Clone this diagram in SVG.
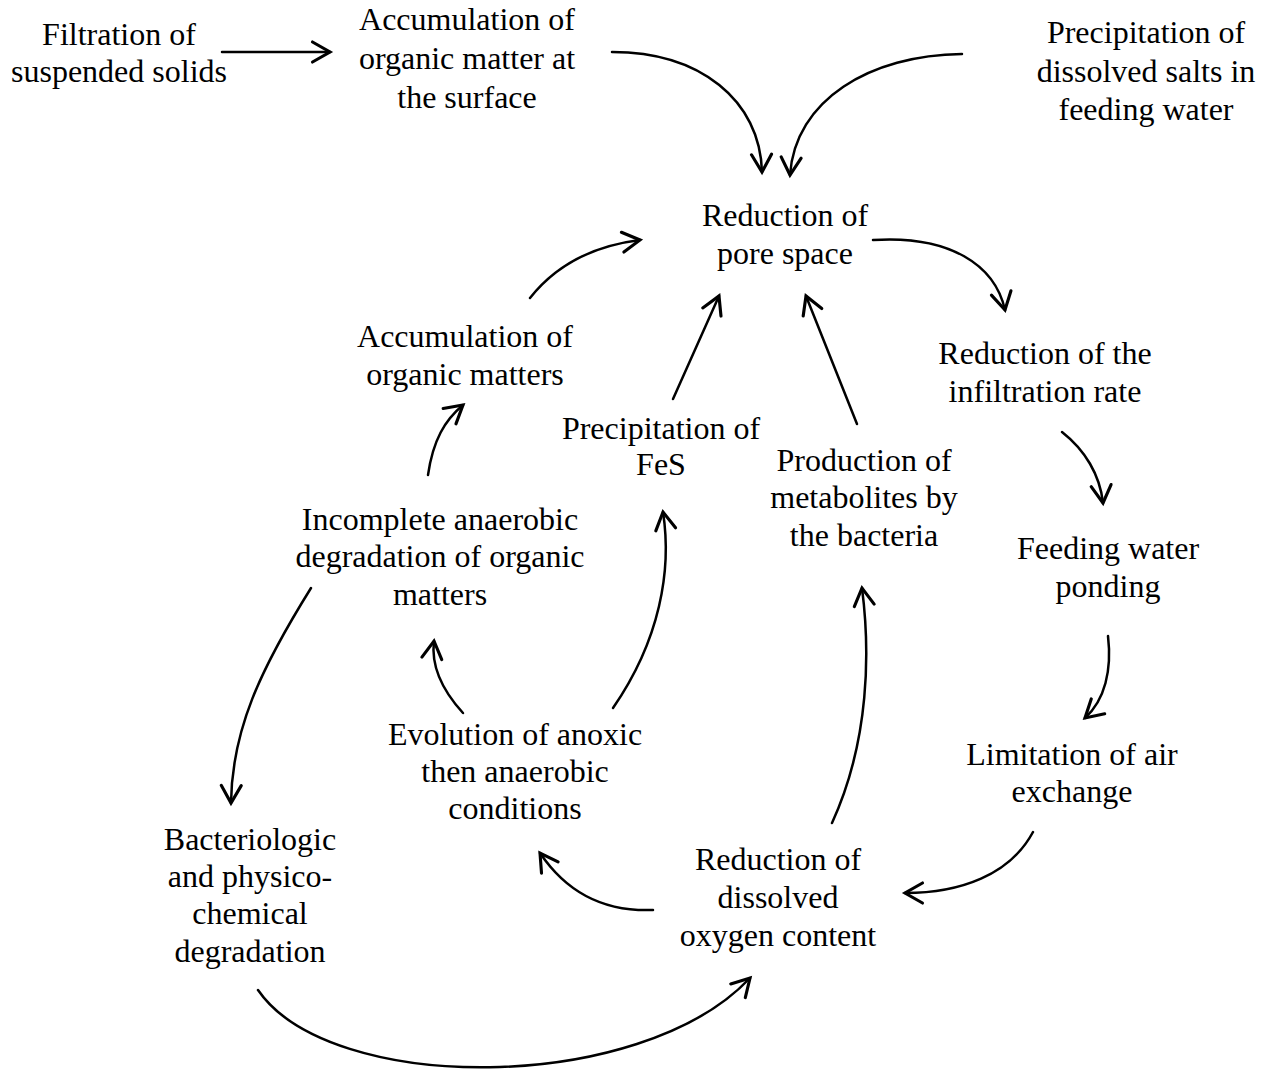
<svg xmlns="http://www.w3.org/2000/svg" width="1268" height="1073" viewBox="0 0 1268 1073">
<defs>
<style>
text{font-family:"Liberation Serif","Times New Roman",serif;font-size:32px;fill:#000;text-anchor:middle}
.c{fill:none;stroke:#000;stroke-width:2.5;stroke-linecap:round}
</style>
<marker id="ah" markerUnits="userSpaceOnUse" markerWidth="30" markerHeight="30" refX="0" refY="0" viewBox="-16 -12 20 24" orient="auto">
<path d="M-14,-8 L0,0 L-14,8" fill="none" stroke="#000" stroke-width="2.5" stroke-linecap="round" stroke-linejoin="miter"/>
</marker>
</defs>
<rect width="1268" height="1073" fill="#fff"/>
<g id="n1"><text x="119" y="45">Filtration of</text><text x="119" y="82">suspended solids</text></g>
<g id="n2"><text x="467" y="30">Accumulation of</text><text x="467" y="69">organic matter at</text><text x="467" y="108">the surface</text></g>
<g id="n3"><text x="1146" y="43">Precipitation of</text><text x="1146" y="82">dissolved salts in</text><text x="1146" y="120">feeding water</text></g>
<g id="n4"><text x="785" y="226">Reduction of</text><text x="785" y="264">pore space</text></g>
<g id="n5"><text x="1045" y="364">Reduction of the</text><text x="1045" y="402">infiltration rate</text></g>
<g id="n6"><text x="1108" y="559">Feeding water</text><text x="1108" y="597">ponding</text></g>
<g id="n7"><text x="1072" y="765">Limitation of air</text><text x="1072" y="802">exchange</text></g>
<g id="n8"><text x="778" y="870">Reduction of</text><text x="778" y="908">dissolved</text><text x="778" y="946">oxygen content</text></g>
<g id="n9"><text x="250" y="850">Bacteriologic</text><text x="250" y="887">and physico-</text><text x="250" y="924">chemical</text><text x="250" y="962">degradation</text></g>
<g id="n10"><text x="515" y="745">Evolution of anoxic</text><text x="515" y="782">then anaerobic</text><text x="515" y="819">conditions</text></g>
<g id="n11"><text x="440" y="530">Incomplete anaerobic</text><text x="440" y="567">degradation of organic</text><text x="440" y="605">matters</text></g>
<g id="n12"><text x="465" y="347">Accumulation of</text><text x="465" y="385">organic matters</text></g>
<g id="n13"><text x="661" y="439">Precipitation of</text><text x="661" y="475">FeS</text></g>
<g id="n14"><text x="864" y="471">Production of</text><text x="864" y="508">metabolites by</text><text x="864" y="546">the bacteria</text></g>
<g id="connectors">
<path class="c" marker-end="url(#ah)" d="M222,52 L330,52"/>
<path class="c" marker-end="url(#ah)" d="M612,52 C700,52 760,100 762,172"/>
<path class="c" marker-end="url(#ah)" d="M962,54 C870,55 795,100 790,175"/>
<path class="c" marker-end="url(#ah)" d="M530,298 C560,260 600,245 640,240"/>
<path class="c" marker-end="url(#ah)" d="M873,240 C950,235 995,265 1005,310"/>
<path class="c" marker-end="url(#ah)" d="M1062,432 C1085,450 1100,475 1103,503"/>
<path class="c" marker-end="url(#ah)" d="M1108,636 C1112,670 1105,700 1085,718"/>
<path class="c" marker-end="url(#ah)" d="M1033,832 C1010,875 960,893 905,893"/>
<path class="c" marker-end="url(#ah)" d="M653,910 C600,912 565,890 540,853"/>
<path class="c" marker-end="url(#ah)" d="M832,823 C870,740 870,650 862,588"/>
<path class="c" marker-end="url(#ah)" d="M613,708 C660,640 672,570 663,512"/>
<path class="c" marker-end="url(#ah)" d="M463,713 C442,690 431,665 434,641"/>
<path class="c" marker-end="url(#ah)" d="M428,475 C433,440 445,420 463,405"/>
<path class="c" marker-end="url(#ah)" d="M673,399 L719,296"/>
<path class="c" marker-end="url(#ah)" d="M857,424 L806,296"/>
<path class="c" marker-end="url(#ah)" d="M311,588 C260,670 232,730 231,803"/>
<path class="c" marker-end="url(#ah)" d="M258,990 C330,1095 640,1095 750,978"/>
</g>
</svg>
